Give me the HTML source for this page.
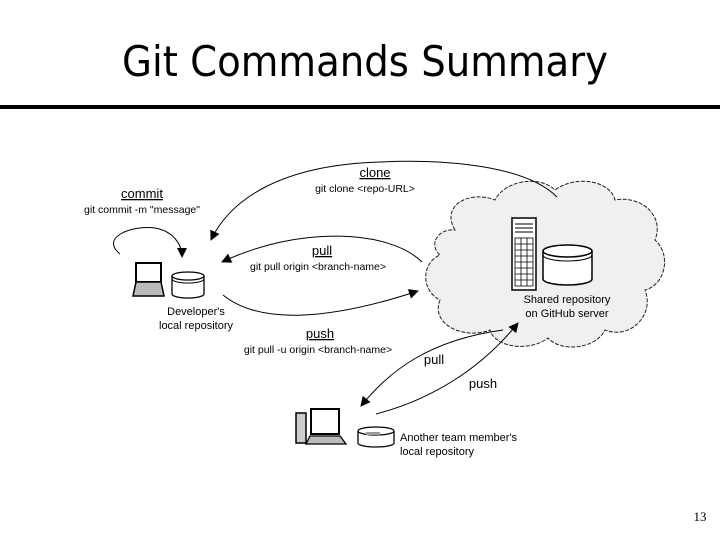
<!DOCTYPE html>
<html><head><meta charset="utf-8"><style>
body{margin:0;background:#fff;width:720px;height:540px;overflow:hidden}
svg{display:block}
</style></head><body>
<svg width="720" height="540" viewBox="0 0 720 540" xmlns="http://www.w3.org/2000/svg" font-family="Liberation Sans, sans-serif">
<defs>
<marker id="a" viewBox="0 0 10 10" refX="9" refY="5" markerWidth="11" markerHeight="10" orient="auto-start-reverse" markerUnits="userSpaceOnUse"><path d="M0,0 L10,5 L0,10 z" fill="#000"/></marker>
</defs>
<text x="365" y="76" font-size="42" text-anchor="middle" font-family="DejaVu Sans, sans-serif" textLength="486" lengthAdjust="spacingAndGlyphs">Git Commands Summary</text>
<rect x="0" y="105" width="720" height="4" fill="#000"/>
<!-- cloud -->
<path d="M455,230 C440,205 470,190 495,200 C505,180 540,175 555,190 C575,175 610,180 615,200 C640,195 665,215 655,240 C672,255 665,285 645,290 C655,315 630,340 605,330 C595,350 560,352 548,338 C530,352 495,348 490,330 C465,340 430,325 440,300 C420,290 422,262 440,255 C428,245 438,228 455,230 z" fill="#f0f0f0" stroke="#222" stroke-width="1" stroke-dasharray="4,1.5"/>
<!-- server tower -->
<rect x="512" y="218" width="24" height="72" fill="#fff" stroke="#000" stroke-width="1.5"/>
<line x1="515" y1="224" x2="533" y2="224" stroke="#000"/><line x1="515" y1="228" x2="533" y2="228" stroke="#000"/><line x1="515" y1="232" x2="533" y2="232" stroke="#000"/>
<g stroke="#000" stroke-width="0.8" fill="none"><rect x="515" y="238" width="18" height="48"/>
<line x1="521" y1="238" x2="521" y2="286"/><line x1="527" y1="238" x2="527" y2="286"/>
<line x1="515" y1="244" x2="533" y2="244"/><line x1="515" y1="250" x2="533" y2="250"/><line x1="515" y1="256" x2="533" y2="256"/><line x1="515" y1="262" x2="533" y2="262"/><line x1="515" y1="268" x2="533" y2="268"/><line x1="515" y1="274" x2="533" y2="274"/><line x1="515" y1="280" x2="533" y2="280"/></g>
<!-- cloud db -->
<path d="M543,251 v28 a24.5,6 0 0 0 49,0 v-28" fill="#fff" stroke="#000" stroke-width="1.5"/>
<ellipse cx="567.5" cy="251" rx="24.5" ry="6" fill="#fff" stroke="#000" stroke-width="1.5"/>
<path d="M543,255 a24.5,6 0 0 0 49,0" fill="none" stroke="#000"/>
<text x="567" y="303" font-size="11" text-anchor="middle">Shared repository</text>
<text x="567" y="317" font-size="11" text-anchor="middle">on GitHub server</text>
<!-- developer laptop -->
<path d="M136,263 h25 v19 h-25 z" fill="#fff" stroke="#000" stroke-width="2"/>
<path d="M136,282 h25 l3,14 h-31 z" fill="#bbb" stroke="#000" stroke-width="1.5"/>
<path d="M172,276 v18 a16,4 0 0 0 32,0 v-18" fill="#fff" stroke="#000" stroke-width="1.3"/>
<ellipse cx="188" cy="276" rx="16" ry="4" fill="#fff" stroke="#000" stroke-width="1.3"/>
<path d="M172,279 a16,4 0 0 0 32,0" fill="none" stroke="#000"/>
<text x="196" y="315" font-size="11" text-anchor="middle">Developer's</text>
<text x="196" y="329" font-size="11" text-anchor="middle">local repository</text>
<!-- commit -->
<text x="142" y="198" font-size="13" text-anchor="middle" text-decoration="underline">commit</text>
<text x="142" y="213" font-size="10.5" text-anchor="middle">git commit -m "message"</text>
<path d="M120,254 C100,238 130,225 155,228 C172,231 182,243 182,257" fill="none" stroke="#000" marker-end="url(#a)"/>
<!-- clone -->
<text x="375" y="177" font-size="13" text-anchor="middle" text-decoration="underline">clone</text>
<text x="365" y="192" font-size="10.5" text-anchor="middle">git clone &lt;repo-URL&gt;</text>
<path d="M557,197 C520,160 420,160 380,162 C280,165 230,200 211,240" fill="none" stroke="#000" marker-end="url(#a)"/>
<!-- pull -->
<text x="322" y="255" font-size="13" text-anchor="middle" text-decoration="underline">pull</text>
<text x="318" y="270" font-size="10.5" text-anchor="middle">git pull origin &lt;branch-name&gt;</text>
<path d="M422,262 C390,230 300,225 222,262" fill="none" stroke="#000" marker-end="url(#a)"/>
<!-- push -->
<path d="M223,295 C260,325 330,320 418,291" fill="none" stroke="#000" marker-end="url(#a)"/>
<text x="320" y="338" font-size="13" text-anchor="middle" text-decoration="underline">push</text>
<text x="318" y="353" font-size="10.5" text-anchor="middle">git pull -u origin &lt;branch-name&gt;</text>
<!-- lower arrows -->
<path d="M503,330 C430,340 390,370 361,406" fill="none" stroke="#000" marker-end="url(#a)"/>
<path d="M376,414 C430,400 480,370 518,323" fill="none" stroke="#000" marker-end="url(#a)"/>
<text x="434" y="364" font-size="13" text-anchor="middle">pull</text>
<text x="483" y="388" font-size="13" text-anchor="middle">push</text>
<!-- team member computer -->
<rect x="296" y="413" width="10" height="30" fill="#ccc" stroke="#000" stroke-width="1.5"/>
<rect x="311" y="409" width="28" height="25" fill="#fff" stroke="#000" stroke-width="2"/>
<path d="M310,436 h30 l6,8 h-40 z" fill="#bbb" stroke="#000" stroke-width="1.3"/>
<path d="M358,431 v12 a18,4 0 0 0 36,0 v-12" fill="#fff" stroke="#000" stroke-width="1.3"/>
<ellipse cx="376" cy="431" rx="18" ry="4" fill="#fff" stroke="#000" stroke-width="1.3"/>
<rect x="366" y="432" width="14" height="3" fill="#999"/>
<text x="400" y="441" font-size="11">Another team member's</text>
<text x="400" y="455" font-size="11">local repository</text>
<text x="700" y="521" font-size="13" text-anchor="middle" font-family="Liberation Serif, serif">13</text>
</svg>
</body></html>
